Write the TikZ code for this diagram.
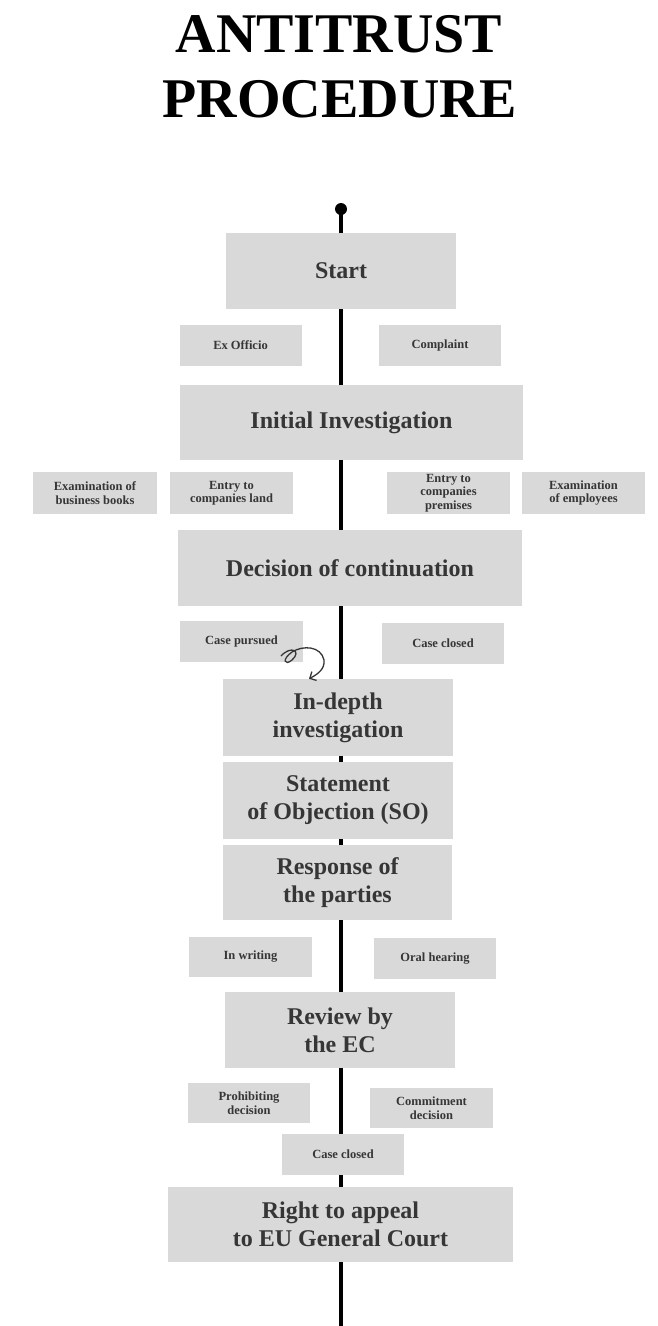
\documentclass[tikz,border=0pt]{standalone}
\usepackage{fontspec}
\setmainfont{Liberation Serif}
\usetikzlibrary{arrows.meta}
\definecolor{boxgray}{HTML}{D9D9D9}
\definecolor{inkgray}{HTML}{363636}
\tikzset{
  bigbox/.style={fill=boxgray, text=inkgray, inner sep=0pt, align=center, minimum height=76pt, font=\bfseries\fontsize{24}{28}\selectfont},
  smallbox/.style={fill=boxgray, text=inkgray, inner sep=0pt, align=center, minimum width=122pt, minimum height=41pt, font=\bfseries\fontsize{12.5}{13.5}\selectfont},
  spine/.style={line width=4pt, black},
  curly/.style={line width=1.3pt, inkgray, -{Straight Barb[length=5pt,width=10pt]}},
}
\begin{document}
\begin{tikzpicture}[x=1pt,y=-1pt]
\useasboundingbox (0,0) rectangle (657,1326);
\node[font=\bfseries\fontsize{56}{65}\selectfont, anchor=base] (title1) at (339,52) {ANTITRUST};
\node[font=\bfseries\fontsize{56}{65}\selectfont, anchor=base] (title2) at (340,117) {PROCEDURE};
\coordinate (axis) at (341,209);
\coordinate (bottom) at (341,1326);
\node[bigbox, minimum width=230pt] (start) at (341,271) {Start};
\node[smallbox] (exofficio) at (240.5,345.5) {Ex Officio};
\node[smallbox] (complaint) at (440,345.5) {Complaint};
\node[bigbox, minimum width=343pt, minimum height=75pt] (init) at (351.5,422.5) {Initial Investigation};
\node[smallbox, minimum width=124pt, minimum height=42pt] (books) at (95,493) {Examination of\\business books};
\node[smallbox, minimum width=123pt, minimum height=42pt] (land) at (231.5,493) {Entry to\\companies land};
\node[smallbox, minimum width=123pt, minimum height=42pt] (premises) at (448.5,493) {Entry to\\companies\\premises};
\node[smallbox, minimum width=123pt, minimum height=42pt] (employees) at (583.5,493) {Examination\\of employees};
\node[bigbox, minimum width=344pt] (decision) at (350,568) {Decision of continuation};
\node[smallbox, minimum width=123pt] (pursued) at (241.5,641.5) {Case pursued};
\node[smallbox] (closed) at (443,643) {Case closed};
\node[bigbox, minimum width=230pt, minimum height=77pt] (indepth) at (338,717.5) {In-depth\\investigation};
\node[bigbox, minimum width=230pt, minimum height=77pt] (statement) at (338,800.5) {Statement\\of Objection (SO)};
\node[bigbox, minimum width=229pt, minimum height=75pt] (response) at (337.5,882.5) {Response of\\the parties};
\node[smallbox, minimum width=123pt, minimum height=40pt] (writing) at (250.5,957) {In writing};
\node[smallbox] (oral) at (435,958.5) {Oral hearing};
\node[bigbox, minimum width=230pt] (review) at (340,1030) {Review by\\the EC};
\node[smallbox, minimum height=40pt] (prohibiting) at (249,1103) {Prohibiting\\decision};
\node[smallbox, minimum width=123pt, minimum height=40pt] (commitment) at (431.5,1108) {Commitment\\decision};
\node[smallbox] (closedtwo) at (343,1154.5) {Case closed};
\node[bigbox, minimum width=345pt, minimum height=75pt] (appeal) at (340.5,1224.5) {Right to appeal\\to EU General Court};
% spine
\fill (axis) circle (6pt);
\draw[spine] (axis) -- (axis |- start.north);
\draw[spine] (axis |- start.south) -- (axis |- init.north);
\draw[spine] (axis |- init.south) -- (axis |- decision.north);
\draw[spine] (axis |- decision.south) -- (axis |- indepth.north);
\draw[spine] (axis |- indepth.south) -- (axis |- statement.north);
\draw[spine] (axis |- statement.south) -- (axis |- response.north);
\draw[spine] (axis |- response.south) -- (axis |- review.north);
\draw[spine] (axis |- review.south) -- (axis |- closedtwo.north);
\draw[spine] (axis |- closedtwo.south) -- (axis |- appeal.north);
\draw[spine] (axis |- appeal.south) -- (bottom);
% curly arrow
\coordinate (curl) at (281,656);
\draw[curly] (curl) .. controls (291,645) and (302,651) .. (292,660) .. controls (285,666) and (281,660) .. (292,652) .. controls (303,645) and (321,646) .. (324,660) .. controls (325,669) and (318,674) .. ([xshift=-29pt]indepth.north);
\end{tikzpicture}
\end{document}
